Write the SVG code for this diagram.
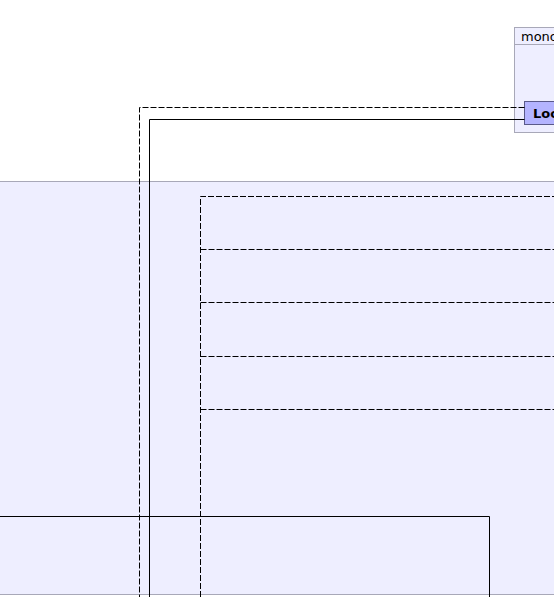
<svg xmlns="http://www.w3.org/2000/svg" width="554" height="597" viewBox="0 0 554 597">
<style>
.band{fill:#EEEEFF;stroke:#A8A8B8;stroke-width:1}
.dash{fill:none;stroke:#000;stroke-width:1;stroke-dasharray:6,2}
.solid{fill:none;stroke:#000;stroke-width:1}
.lbl{font-family:"DejaVu Sans",sans-serif;font-size:13px;fill:#000}
</style>
<rect width="554" height="597" fill="#FFFFFF"/>
<g id="band">
<rect class="band" x="-2" y="181.5" width="560" height="413"/>
</g>
<g id="mono">
<rect class="band" x="514.5" y="27.5" width="50" height="105"/>
<line x1="514.5" y1="44.5" x2="560" y2="44.5" stroke="#A8A8B8"/>
<text class="lbl" x="521" y="41">mono</text>
</g>
<g id="loc">
<rect x="524.5" y="101.5" width="40" height="23" fill="#B4B4FF" stroke="#5A5A8A"/>
<text class="lbl" x="533" y="118" font-weight="bold">Loc</text>
</g>
<g id="frames">
<path class="dash" d="M200.5,597 V196.5 H560"/>
<line class="dash" x1="200.5" y1="249.5" x2="560" y2="249.5"/>
<line class="dash" x1="200.5" y1="302.5" x2="560" y2="302.5"/>
<line class="dash" x1="200.5" y1="356.5" x2="560" y2="356.5"/>
<line class="dash" x1="200.5" y1="409.5" x2="560" y2="409.5"/>
<path class="solid" d="M-2,516.5 H489.5 V600"/>
</g>
<g id="connectors">
<path class="dash" d="M524.5,107.5 H139.5 V600"/>
<path class="solid" d="M524.5,119.5 H149.5 V600"/>
</g>
</svg>
